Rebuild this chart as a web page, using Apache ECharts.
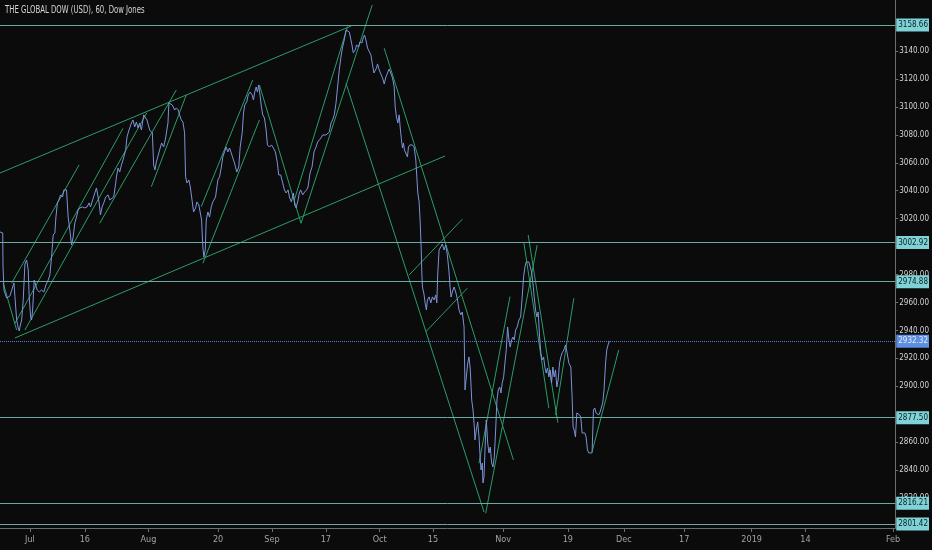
<!DOCTYPE html>
<html>
<head>
<meta charset="utf-8">
<script src="https://cdn.jsdelivr.net/npm/echarts@6/dist/echarts.min.js"></script>
<style>
html,body{margin:0;padding:0;background:#0b0b0c;}
#chart{width:932px;height:550px;}
</style>
</head>
<body>
<div id="chart"></div>
<script>
// x unit: trading days since Jul 2, 2018 (fractional = intraday)
var tickDays   = [0, 10.1, 21.8, 34.6, 44.5, 54.4, 64.3, 74.1, 87.0, 98.9, 109.2, 120.3, 132.7, 142.6, 158.7];
var tickLabels = ['Jul','16','Aug','20','Sep','17','Oct','15','Nov','19','Dec','17','2019','14','Feb'];
var priceTicks = [2820,2840,2860,2880,2900,2920,2940,2960,2980,3000,3020,3040,3060,3080,3100,3120,3140];
var priceLabelTicks = [2820,2840,2860,2900,2920,2940,2960,2980,3000,3020,3040,3060,3080,3100,3120,3140];

var levelValues = [3158.66, 3002.92, 2974.88, 2877.50, 2816.21, 2801.42];
var lastPrice = 2932.32;

var julyPrices = [[-5.5,3010.5],[-5.0,3009.8],[-4.95,2986.1],[-4.77,2968.8],[-4.28,2963.2],[-3.98,2961.8],[-3.67,2964.7],[-3.17,2971.1],[-2.94,2974.0],[-2.75,2964.0],[-2.44,2947.5],[-2.15,2941.8],[-1.96,2939.6],[-1.83,2942.5],[-1.52,2947.5],[-1.23,2961.8],[-0.92,2987.6],[-0.61,2990.4],[-0.31,2983.3],[-0.13,2964.0],[0.13,2949.6],[0.31,2947.5],[0.5,2954.6],[0.79,2976.1],[1.1,2977.5],[1.34,2968.9],[1.71,2967.5],[2.15,2968.9],[2.57,2967.5],[2.94,2972.5],[3.36,2976.1],[3.67,2979.7],[3.98,2992.6],[4.28,3008.3],[4.59,3009.8],[4.77,3020.5],[5.05,3031.3],[5.32,3033.4],[5.63,3037.0],[6.0,3035.5],[6.24,3040.6],[6.48,3042.0],[6.73,3040.6],[7.03,3021.2],[7.34,3011.9],[7.65,3001.2],[7.95,3006.9],[8.26,3016.9],[8.57,3021.2],[8.86,3026.2],[9.17,3027.7],[9.67,3028.4],[10.09,3027.7],[10.51,3028.4],[10.88,3031.3],[11.14,3028.4],[11.5,3029.8],[11.93,3038.4],[12.24,3042.0],[12.53,3040.6],[12.72,3031.3],[12.97,3022.7],[13.27,3028.4],[13.58,3031.3],[13.94,3035.5],[14.37,3037.0],[14.68,3033.4],[14.99,3034.8],[15.41,3035.5],[15.78,3045.6],[15.91,3049.9],[16.2,3056.3],[16.51,3053.4],[16.83,3058.5],[17.12,3062.0],[17.61,3069.2],[17.85,3078.5],[18.22,3083.5],[18.66,3088.5],[18.95,3090.7],[19.27,3085.7],[19.58,3089.2],[19.87,3085.0],[20.18,3088.5],[20.5,3083.5],[20.92,3094.3],[21.23,3095.7],[21.52,3090.7]];

var augPrices = [[22.02,3083.5],[22.51,3081.4],[22.75,3058.5],[22.99,3054.9],[23.25,3060.6],[23.54,3062.0],[23.85,3069.2],[24.22,3074.2],[24.59,3071.3],[24.95,3077.8],[25.38,3088.5],[25.56,3102.9],[25.82,3103.6],[26.18,3101.4],[26.61,3097.8],[26.92,3099.3],[27.28,3097.8],[27.52,3094.3],[27.83,3090.7],[28.13,3089.2],[28.44,3081.4],[28.62,3049.9],[28.86,3045.6],[29.23,3047.7],[29.49,3042.7],[29.85,3032.0],[30.09,3024.8],[30.46,3027.7],[30.7,3032.0],[31.06,3029.8],[31.32,3028.4],[31.56,3019.1],[31.8,2999.7],[31.98,2992.6],[32.24,2997.6],[32.42,3019.1],[32.72,3024.8],[33.03,3021.2],[33.34,3028.4],[33.63,3032.0],[34.13,3035.5],[34.55,3047.7],[34.86,3049.9],[35.17,3056.3],[35.47,3064.2],[35.78,3067.8],[36.09,3071.3],[36.39,3067.8],[36.7,3070.6],[37.01,3067.1],[37.3,3063.5],[37.61,3059.9],[38.04,3053.4],[38.4,3057.0],[38.66,3071.3],[39.03,3081.4],[39.27,3095.7],[39.5,3101.4],[39.87,3103.6],[40.13,3108.6],[40.5,3110.7],[40.86,3108.6],[41.1,3105.0],[41.34,3110.7],[41.6,3114.3],[41.83,3110.7],[42.07,3115.7],[42.33,3114.3],[42.57,3100.0],[42.81,3094.3],[43.12,3092.1],[43.43,3083.5],[43.67,3072.8],[44.04,3071.3]];

var sepPrices = [[44.4,3072.8],[44.77,3070.6],[45.14,3067.8],[45.5,3059.9],[45.74,3051.3],[46.11,3051.3],[46.48,3045.6],[46.79,3040.6],[47.1,3038.4],[47.47,3040.6],[47.71,3035.5],[48.07,3032.0],[48.44,3038.4],[48.68,3029.8],[48.94,3027.7],[49.3,3033.4],[49.54,3038.4],[49.78,3040.6],[50.15,3037.0],[50.51,3039.1],[50.88,3040.6],[51.14,3042.7],[51.5,3052.7],[51.87,3057.0],[52.24,3067.8],[52.61,3071.3],[52.9,3074.9],[53.21,3074.2],[53.52,3077.8],[53.82,3079.9],[54.18,3078.5],[54.44,3079.9],[54.73,3078.5],[55.05,3082.1],[55.36,3088.5],[55.65,3090.7],[55.96,3094.3],[56.28,3102.9],[56.57,3114.3],[56.88,3126.5],[57.19,3135.8],[57.49,3142.9],[57.8,3148.0],[58.11,3155.1],[58.4,3156.5],[58.72,3153.7],[59.03,3153.0],[59.21,3144.4],[59.45,3138.7],[59.82,3140.8],[60.06,3144.4],[60.42,3142.9],[60.68,3146.5],[61.05,3145.8],[61.28,3149.4],[61.52,3151.5],[61.78,3148.0],[62.07,3142.2],[62.39,3140.8],[62.7,3137.2],[62.99,3130.1],[63.25,3124.3],[63.49,3122.9],[63.72,3127.9],[63.91,3130.8]];

var octPrices = [[64.22,3126.5],[64.53,3123.6],[64.83,3120.8],[65.14,3116.5],[65.45,3121.5],[65.74,3122.9],[66.06,3127.2],[66.37,3126.5],[66.67,3120.8],[66.97,3114.3],[67.16,3100.0],[67.39,3092.8],[67.65,3088.5],[67.89,3094.3],[68.07,3085.7],[68.31,3076.4],[68.5,3070.6],[68.68,3074.2],[68.86,3069.2],[69.12,3067.8],[69.41,3064.2],[69.6,3071.3],[69.85,3072.8],[70.33,3072.8],[70.64,3071.3],[70.95,3062.0],[71.14,3049.9],[71.32,3038.4],[71.56,3032.0],[71.74,3019.1],[71.93,2999.7],[72.06,2981.1],[72.17,2971.1],[72.48,2965.4],[72.66,2959.7],[72.9,2954.6],[73.08,2961.8],[73.39,2964.0],[73.71,2959.7],[74.0,2964.0],[74.31,2961.8],[74.62,2965.4],[74.81,2959.7],[74.99,2981.1],[75.23,2997.6],[75.54,2999.0],[75.83,3001.9],[76.15,2997.6],[76.46,3001.2],[76.75,2994.0],[77.06,2981.8],[77.25,2971.1],[77.43,2963.9],[77.67,2967.5],[77.98,2971.1],[78.29,2967.5],[78.59,2962.5],[78.9,2954.6],[79.21,2951.1],[79.5,2953.2],[79.82,2942.5],[80.0,2897.4],[80.24,2906.7],[80.5,2916.7],[80.73,2921.0],[80.97,2911.7],[81.23,2890.2],[81.47,2883.0],[81.71,2870.9],[81.83,2861.6],[82.07,2868.7],[82.33,2874.5],[82.57,2863.7],[82.81,2847.2],[82.94,2840.1],[83.17,2845.1],[83.3,2830.8],[83.49,2835.1],[83.67,2854.4],[83.91,2875.9],[84.17,2859.4],[84.4,2852.3],[84.64,2856.5],[84.9,2845.1],[85.14,2842.2],[85.38,2849.4],[85.63,2868.7],[85.87,2890.2],[86.11,2897.4],[86.37,2899.5],[86.61,2895.2]];

var novPrices = [[86.84,2902.4],[87.1,2906.7],[87.34,2916.7],[87.58,2926.0],[87.83,2942.5],[88.07,2933.2],[88.31,2928.1],[88.57,2933.2],[88.81,2935.3],[89.05,2933.2],[89.3,2940.3],[89.6,2942.5],[89.91,2947.5],[90.22,2949.6],[90.51,2964.0],[90.77,2978.3],[91.01,2985.4],[91.25,2989.0],[91.5,2990.4],[91.74,2989.0],[91.98,2988.3],[92.24,2981.8],[92.48,2974.0],[92.72,2964.0],[92.97,2954.6],[93.21,2949.6],[93.45,2953.2],[93.71,2935.3],[93.94,2923.9],[94.18,2918.8],[94.44,2921.0],[94.68,2913.8],[94.92,2909.5],[95.17,2913.1],[95.41,2906.7],[95.65,2911.7],[95.91,2902.4],[96.15,2913.8],[96.39,2906.7],[96.64,2911.7],[96.88,2899.5],[97.12,2904.5],[97.38,2916.7],[97.61,2921.0],[97.85,2923.9],[98.17,2926.0],[98.48,2929.6],[98.77,2923.9],[99.08,2916.7],[99.45,2913.8],[99.69,2892.3],[99.87,2870.9],[100.06,2868.7],[100.31,2863.7],[100.55,2880.9],[100.79,2881.6],[101.05,2879.5],[101.28,2878.0],[101.52,2866.6],[101.78,2867.3],[102.02,2866.6],[102.26,2863.7],[102.51,2854.4],[102.75,2852.3],[103.06,2853.0],[103.36,2852.3],[103.61,2883.0],[103.85,2884.5],[104.09,2880.9],[104.35,2881.6],[104.59,2879.5],[104.83,2881.6],[105.08,2883.0],[105.32,2888.1],[105.56,2897.4],[105.84,2916.7],[106.06,2926.0],[106.29,2929.6],[106.55,2932.3]];

// trend lines drawn on the chart: [startDay, startPrice, endDay, endPrice]
var trendLines = [
  [-5.5,3052.7, 59.08,3158.0],
  [-2.75,2934.6, 76.33,3064.9],
  [-3.36,2973.8, 9.05,3058.5],
  [-2.75,2945.1, 17.12,3084.7],
  [-0.92,2940.3, 21.47,3095.7],
  [12.84,3016.7, 26.92,3112.2],
  [22.33,3042.9, 28.75,3108.6],
  [-4.90,2973.8, -2.44,2940.3],
  [31.50,3028.6, 40.97,3119.3],
  [31.80,2988.1, 42.20,3090.7],
  [42.20,3115.7, 49.85,3016.7],
  [48.62,3033.4, 58.40,3157.5],
  [49.85,3016.7, 62.94,3173.0],
  [58.11,3117.0, 83.49,2810.0],
  [65.14,3142.0, 88.90,2847.2],
  [69.72,2979.7, 79.50,3019.6],
  [72.79,2939.1, 80.42,2970.2],
  [83.80,2809.1, 93.27,3001.2],
  [82.57,2844.9, 88.26,2964.2],
  [90.83,3002.4, 95.41,2884.3],
  [91.61,3008.3, 97.06,2874.0],
  [96.64,2879.5, 100.00,2963.0],
  [103.36,2853.2, 108.26,2926.0]
];

var prices = julyPrices.concat(augPrices, sepPrices, octPrices, novPrices);
var COND = '"DejaVu Sans Condensed","DejaVu Sans",sans-serif';
var axisColor = '#6e6e6e';

function levelLabel(v, bg, fg) {
  return {
    show: true, position: 'end', distance: 1,
    formatter: v.toFixed(2),
    backgroundColor: bg, color: fg,
    padding: [2, 1, 1, 2], fontSize: 8, lineHeight: 10, fontFamily: COND
  };
}
var levelMarks = levelValues.map(function (v) {
  return {
    yAxis: v,
    lineStyle: {color: '#69aaa5', width: 1, type: 'solid'},
    label: levelLabel(v, '#7fd3d6', '#0b1f24')
  };
});
levelMarks.push({
  yAxis: lastPrice,
  lineStyle: {color: '#5b7fcf', width: 1, type: [1, 1]},
  label: levelLabel(lastPrice, '#5e8fe0', '#e3ecff')
});

var chart = echarts.init(document.getElementById('chart'), null, {renderer: 'canvas'});
chart.setOption({
  backgroundColor: '#0b0b0c',
  animation: false,
  graphic: [{
    type: 'text', x: 5, y: 5, scaleX: 0.77, silent: true,
    style: {text: 'THE GLOBAL DOW (USD), 60, Dow Jones', fill: '#d6d6d6', fontSize: 10, fontFamily: COND}
  }],
  grid: {left: 0, right: 35, top: 0, bottom: 22, containLabel: false},
  xAxis: {
    type: 'value', min: -5.5, max: 159.1,
    splitLine: {show: false},
    axisLine: {show: true, onZero: false, lineStyle: {color: axisColor}},
    axisTick: {show: true, customValues: tickDays, length: 4, lineStyle: {color: axisColor}},
    axisLabel: {
      customValues: tickDays, color: '#a3a3a3', fontSize: 9, margin: 7, fontFamily: COND,
      formatter: function (val) {
        var best = 0;
        for (var i = 0; i < tickDays.length; i++) {
          if (Math.abs(tickDays[i] - val) < Math.abs(tickDays[best] - val)) best = i;
        }
        return tickLabels[best];
      }
    }
  },
  yAxis: {
    type: 'value', position: 'right', min: 2798.55, max: 3176.56,
    splitLine: {show: false},
    axisLine: {show: true, onZero: false, lineStyle: {color: axisColor}},
    axisTick: {show: true, customValues: priceTicks, length: 3, lineStyle: {color: axisColor}},
    axisLabel: {
      customValues: priceLabelTicks, color: '#d4d4d4', fontSize: 8, margin: 4, fontFamily: COND,
      formatter: function (v) { return v.toFixed(2); }
    }
  },
  series: [
    {
      type: 'lines',
      coordinateSystem: 'cartesian2d',
      silent: true,
      z: 2,
      lineStyle: {color: '#2a9d66', width: 1, opacity: 1},
      data: trendLines.map(function (t) { return {coords: [[t[0], t[1]], [t[2], t[3]]]}; })
    },
    {
      type: 'line',
      data: prices,
      showSymbol: false,
      z: 3,
      lineStyle: {color: '#7d93d8', width: 1},
      markLine: {
        silent: true,
        z: 5,
        symbol: ['none', 'none'],
        data: levelMarks
      }
    }
  ]
});
</script>
</body>
</html>
